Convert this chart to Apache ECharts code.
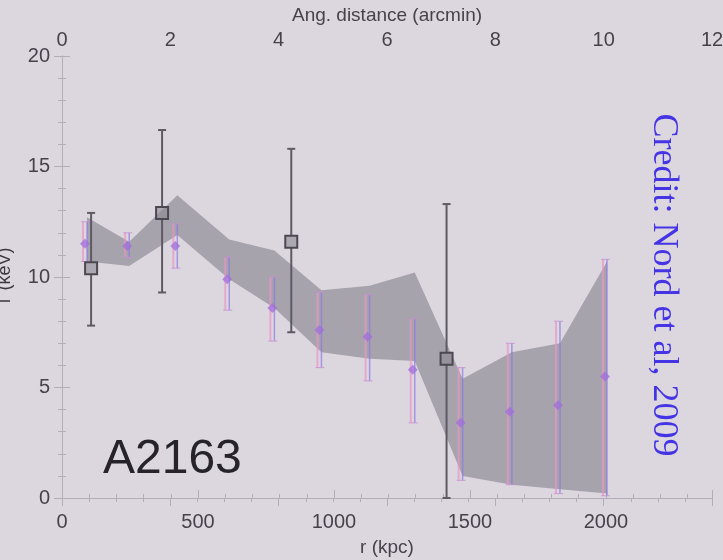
<!DOCTYPE html>
<html>
<head>
<meta charset="utf-8">
<script src="https://cdn.jsdelivr.net/npm/echarts@6/dist/echarts.min.js"></script>
<style>
html,body{margin:0;padding:0;background:#dcd7df;}
#chart{width:723px;height:560px;}
</style>
</head>
<body>
<div id="chart"></div>
<script>
// Radii (kpc) of the gray band vertices
const bandR = [92, 247, 424, 615, 781, 954, 1131, 1297, 1473, 1654, 1831, 2004];
const bandUpper = [12.7, 11.6, 13.7, 11.7, 11.2, 9.4, 9.6, 10.2, 5.4, 6.6, 7.0, 10.7];
const bandLower = [10.7, 10.5, 11.9, 9.9, 8.6, 6.6, 6.3, 6.2, 1.0, 0.6, 0.4, 0.2];

// Purple temperature profile
const xmmR = [92, 247, 424, 615, 781, 954, 1131, 1297, 1473, 1654, 1831, 2004];
const xmmT = [11.5, 11.4, 11.4, 9.9, 8.6, 7.6, 7.3, 5.8, 3.4, 3.9, 4.2, 5.5];
const xmmHi = [12.5, 12.0, 12.4, 10.9, 10.0, 9.3, 9.2, 8.1, 5.9, 7.0, 8.0, 10.8];
const xmmLo = [10.7, 10.9, 10.4, 8.5, 7.1, 5.9, 5.3, 3.4, 0.8, 0.6, 0.2, 0.1];

// Black square points
const chR = [107, 368, 843, 1414];
const chT = [10.4, 12.9, 11.6, 6.3];
const chHi = [12.9, 16.65, 15.8, 13.3];
const chLo = [7.8, 9.3, 7.5, 0];

const yTicks = [0, 5, 10, 15, 20];
const xTicks = [0, 500, 1000, 1500, 2000];
const angTicks = [0, 2, 4, 6, 8, 10, 12];

const chart = echarts.init(document.getElementById('chart'));
const axisCol = '#b3adba';
const txtCol = '#46424c';

const option = {
  backgroundColor: '#dcd7df',
  animation: false,
  grid: {left: 62, right: 11, top: 56, bottom: 62, containLabel: false, outerBoundsMode: 'none'},
  xAxis: [
    {type: 'value', position: 'bottom', min: 0, max: 2390, interval: 500,
     name: 'r (kpc)', nameLocation: 'middle', nameGap: 40,
     nameTextStyle: {fontFamily: 'Liberation Sans', fontSize: 19, color: txtCol},
     axisLine: {show: true, lineStyle: {color: axisCol}},
     axisTick: {show: true, inside: true, length: 8, lineStyle: {color: axisCol}},
     minorTick: {show: true, splitNumber: 5, length: 4, lineStyle: {color: axisCol}},
     splitLine: {show: false},
     axisLabel: {margin: 14, fontFamily: 'Liberation Sans', fontSize: 20, color: txtCol,
       formatter: v => xTicks.includes(v) ? String(v) : ''}},
    {type: 'value', position: 'top', min: 0, max: 12, interval: 2,
     name: 'Ang. distance (arcmin)', nameLocation: 'middle', nameGap: 27,
     nameTextStyle: {fontFamily: 'Liberation Sans', fontSize: 19, color: txtCol},
     axisLine: {show: true, lineStyle: {color: axisCol}},
     axisTick: {show: true, inside: true, length: 8, lineStyle: {color: axisCol}},
     minorTick: {show: true, splitNumber: 4, length: 4, lineStyle: {color: axisCol}},
     splitLine: {show: false},
     axisLabel: {margin: 6, fontFamily: 'Liberation Sans', fontSize: 20, color: txtCol,
       formatter: v => angTicks.includes(v) ? String(v) : ''}}
  ],
  yAxis: [
    {type: 'value', position: 'left', min: 0, max: 20, interval: 5,
     name: 'T (keV)', nameLocation: 'middle', nameGap: 48,
     nameTextStyle: {fontFamily: 'Liberation Sans', fontSize: 18, color: '#3a3640'},
     axisLine: {show: true, lineStyle: {color: axisCol}},
     axisTick: {show: true, inside: true, length: 8, lineStyle: {color: axisCol}},
     minorTick: {show: true, splitNumber: 5, length: 4, lineStyle: {color: axisCol}},
     splitLine: {show: false},
     axisLabel: {margin: 12, fontFamily: 'Liberation Sans', fontSize: 20, color: txtCol,
       formatter: v => yTicks.includes(v) ? String(v) : ''}},
    {type: 'value', position: 'right', min: 0, max: 20, interval: 5,
     axisLine: {show: true, lineStyle: {color: axisCol}},
     axisTick: {show: true, inside: true, length: 8, lineStyle: {color: axisCol}},
     minorTick: {show: true, splitNumber: 5, length: 4, lineStyle: {color: axisCol}},
     splitLine: {show: false},
     axisLabel: {show: false}}
  ],
  series: [
    {
      type: 'custom', name: 'band', xAxisIndex: 0, yAxisIndex: 0, z: 2,
      data: bandR.map((r, i) => [r, bandLower[i], bandUpper[i]]),
      renderItem: function (params, api) {
        if (params.dataIndex !== 0) return null;
        const pts = [];
        for (let i = 0; i < bandR.length; i++) pts.push(api.coord([bandR[i], bandUpper[i]]));
        for (let i = bandR.length - 1; i >= 0; i--) pts.push(api.coord([bandR[i], bandLower[i]]));
        return {type: 'polygon', shape: {points: pts},
                style: {fill: 'rgba(150,146,156,0.75)', stroke: null}};
      }
    },
    {
      type: 'custom', name: 'xmm', xAxisIndex: 0, yAxisIndex: 0, z: 3,
      data: xmmR.map((r, i) => [r, xmmT[i], xmmLo[i], xmmHi[i]]),
      renderItem: function (params, api) {
        const x = api.value(0);
        const pM = api.coord([x, api.value(1)]);
        const pL = api.coord([x, api.value(2)]);
        const pH = api.coord([x, api.value(3)]);
        const cx = pM[0];
        return {type: 'group', children: [
          {type: 'line', shape: {x1: cx - 4, y1: pL[1], x2: cx - 4, y2: pH[1]},
           style: {stroke: 'rgba(232,150,196,0.7)', lineWidth: 2}},
          {type: 'line', shape: {x1: cx, y1: pL[1], x2: cx, y2: pH[1]},
           style: {stroke: 'rgba(140,120,228,0.7)', lineWidth: 1.5}},
          {type: 'line', shape: {x1: cx - 6, y1: pH[1], x2: cx + 3, y2: pH[1]},
           style: {stroke: 'rgba(200,140,210,0.8)', lineWidth: 1}},
          {type: 'line', shape: {x1: cx - 6, y1: pL[1], x2: cx + 3, y2: pL[1]},
           style: {stroke: 'rgba(200,140,210,0.8)', lineWidth: 1}},
          {type: 'polygon', shape: {points: [[cx - 2, pM[1] - 5], [cx + 3, pM[1]], [cx - 2, pM[1] + 5], [cx - 7, pM[1]]]},
           style: {fill: 'rgba(160,110,220,0.75)', stroke: null}}
        ]};
      }
    },
    {
      type: 'custom', name: 'chandra', xAxisIndex: 0, yAxisIndex: 0, z: 4,
      data: chR.map((r, i) => [r, chT[i], chLo[i], chHi[i]]),
      renderItem: function (params, api) {
        const x = api.value(0);
        const pM = api.coord([x, api.value(1)]);
        const pL = api.coord([x, api.value(2)]);
        const pH = api.coord([x, api.value(3)]);
        const cx = pM[0];
        const s = 6;
        return {type: 'group', children: [
          {type: 'line', shape: {x1: cx, y1: pL[1], x2: cx, y2: pM[1] + s},
           style: {stroke: '#5e5a64', lineWidth: 2}},
          {type: 'line', shape: {x1: cx, y1: pM[1] - s, x2: cx, y2: pH[1]},
           style: {stroke: '#5e5a64', lineWidth: 2}},
          {type: 'line', shape: {x1: cx - 4, y1: pH[1], x2: cx + 4, y2: pH[1]},
           style: {stroke: '#5e5a64', lineWidth: 2}},
          {type: 'line', shape: {x1: cx - 4, y1: pL[1], x2: cx + 4, y2: pL[1]},
           style: {stroke: '#5e5a64', lineWidth: 2}},
          {type: 'rect', shape: {x: cx - s, y: pM[1] - s, width: 2 * s, height: 2 * s},
           style: {fill: 'rgba(140,136,146,0.6)', stroke: '#4c4852', lineWidth: 2}}
        ]};
      }
    }
  ],
  graphic: [
    {type: 'text', left: 103, top: 436,
     style: {text: 'A2163', font: '48px "Liberation Sans"', fill: '#26232a'}},
    {type: 'text', x: 663, y: 285, rotation: -Math.PI / 2,
     style: {text: 'Credit: Nord et al, 2009', font: '36px "Liberation Serif"', fill: '#4434e4',
             align: 'center', verticalAlign: 'middle'}}
  ]
};
chart.setOption(option);
</script>
</body>
</html>
